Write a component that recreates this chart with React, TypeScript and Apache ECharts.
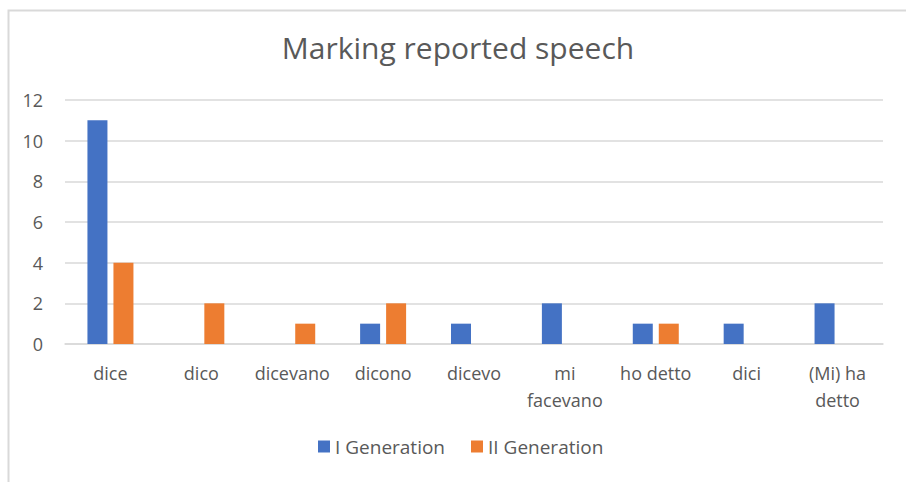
import React, { useEffect, useRef } from "react";
import * as echarts from "echarts";

const categories = [
  "dice",
  "dico",
  "dicevano",
  "dicono",
  "dicevo",
  "mi\nfacevano",
  "ho detto",
  "dici",
  "(Mi) ha\ndetto",
];
const firstGeneration = [11, 0, 0, 1, 1, 2, 1, 1, 2];
const secondGeneration = [4, 2, 1, 2, 0, 0, 1, 0, 0];
const yTicks = { min: 0, max: 12, interval: 2 };

const FONT = "'Open Sans', 'Noto Sans', sans-serif";
const TEXT = "#595959";

export default function App() {
  const ref = useRef<HTMLDivElement>(null);

  useEffect(() => {
    if (!ref.current) return;
    const chart = echarts.init(ref.current, undefined, { renderer: "svg" });
    chart.setOption({
      animation: false,
      backgroundColor: "#ffffff",
      textStyle: { fontFamily: FONT },
      title: {
        text: "Marking reported speech",
        left: 458,
        top: 32,
        padding: 0,
        textAlign: "center",
        textStyle: { fontFamily: FONT, fontSize: 30, fontWeight: "normal", color: TEXT },
      },
      legend: {
        left: 318,
        top: 437,
        padding: 0,
        itemWidth: 12,
        itemHeight: 12,
        itemGap: 26,
        icon: "rect",
        textStyle: { fontFamily: FONT, fontSize: 19, color: TEXT },
        data: ["I Generation", "II Generation"],
      },
      grid: { left: 65, right: 23, top: 100, bottom: 138, containLabel: false },
      xAxis: {
        type: "category",
        data: categories,
        axisTick: { show: false },
        axisLine: { lineStyle: { color: "#D9D9D9", width: 1.5 } },
        axisLabel: {
          interval: 0,
          margin: 15,
          fontFamily: FONT,
          fontSize: 18,
          lineHeight: 27,
          color: TEXT,
        },
      },
      yAxis: {
        type: "value",
        min: yTicks.min,
        max: yTicks.max,
        interval: yTicks.interval,
        axisLine: { show: false },
        axisTick: { show: false },
        splitLine: { lineStyle: { color: "#D9D9D9", width: 1.5 } },
        axisLabel: { margin: 22, fontFamily: FONT, fontSize: 18, color: TEXT },
      },
      series: [
        {
          name: "I Generation",
          type: "bar",
          data: firstGeneration,
          barWidth: 20,
          barGap: "30%",
          itemStyle: { color: "#4472C4" },
        },
        {
          name: "II Generation",
          type: "bar",
          data: secondGeneration,
          barWidth: 20,
          itemStyle: { color: "#ED7D31" },
        },
      ],
      graphic: [
        {
          type: "rect",
          left: 6,
          top: 8,
          shape: { width: 930, height: 500 },
          style: { fill: "none", stroke: "#D9D9D9", lineWidth: 2 },
          silent: true,
        },
      ],
    });
    return () => chart.dispose();
  }, []);

  return (
    <div
      ref={ref}
      style={{ position: "fixed", left: 0, top: 0, width: 906, height: 482 }}
    />
  );
}
